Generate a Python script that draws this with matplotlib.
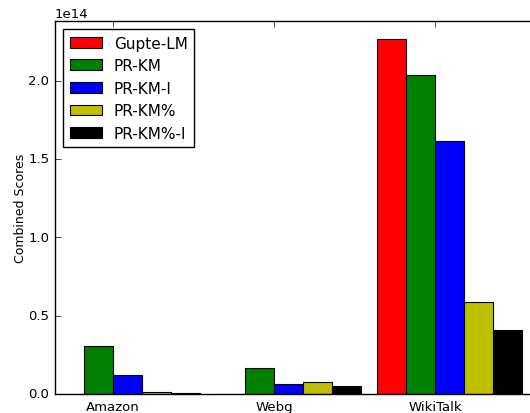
import numpy as np
import matplotlib
matplotlib.use("Agg")
import matplotlib.pyplot as plt

plt.style.use("classic")
plt.rcParams['font.family'] = ['DejaVu Sans']

datasets = ["Amazon", "Webg", "WikiTalk"]
methods = ["Gupte-LM", "PR-KM", "PR-KM-I", "PR-KM%", "PR-KM%-I"]
colors = ["r", "g", "b", "y", "k"]

# Combined scores (x 1e14)
gupte_lm = [0.0, 0.0, 2.265]
pr_km = [0.306, 0.166, 2.038]
pr_km_i = [0.122, 0.066, 1.613]
pr_km_pct = [0.010, 0.075, 0.585]
pr_km_pct_i = [0.005, 0.051, 0.408]

series = [gupte_lm, pr_km, pr_km_i, pr_km_pct, pr_km_pct_i]
scale = 1e14

fig = plt.figure(figsize=(5.30, 4.14), dpi=100)
fig.patch.set_facecolor("white")
ax = fig.add_axes([55 / 530, 19 / 414, 483 / 530, 373 / 414])

ind = np.arange(len(datasets))
width = 0.18
for i, (name, vals, c) in enumerate(zip(methods, series, colors)):
    ax.bar(ind + i * width, np.array(vals) * scale, width, color=c,
           edgecolor="k", linewidth=0.8, label=name, align="edge")

ax.set_xlim(0, 3)
ax.set_ylim(0, 2.38e14)
ax.set_xticks(ind + 2 * width)
ax.set_xticklabels(datasets, fontsize=9.5)
ax.set_yticks(np.arange(0, 2.01, 0.5) * scale)
ax.tick_params(axis="y", labelsize=9.5)
ax.yaxis.get_offset_text().set_fontsize(9.5)
ax.set_ylabel("Combined Scores", fontsize=9, labelpad=1)

leg = ax.legend(loc="upper left", fontsize=11, handlelength=2.1,
                borderaxespad=0.55, labelspacing=0.5)
leg.get_frame().set_edgecolor("k")

fig.savefig("out.png", dpi=100, facecolor="white")
